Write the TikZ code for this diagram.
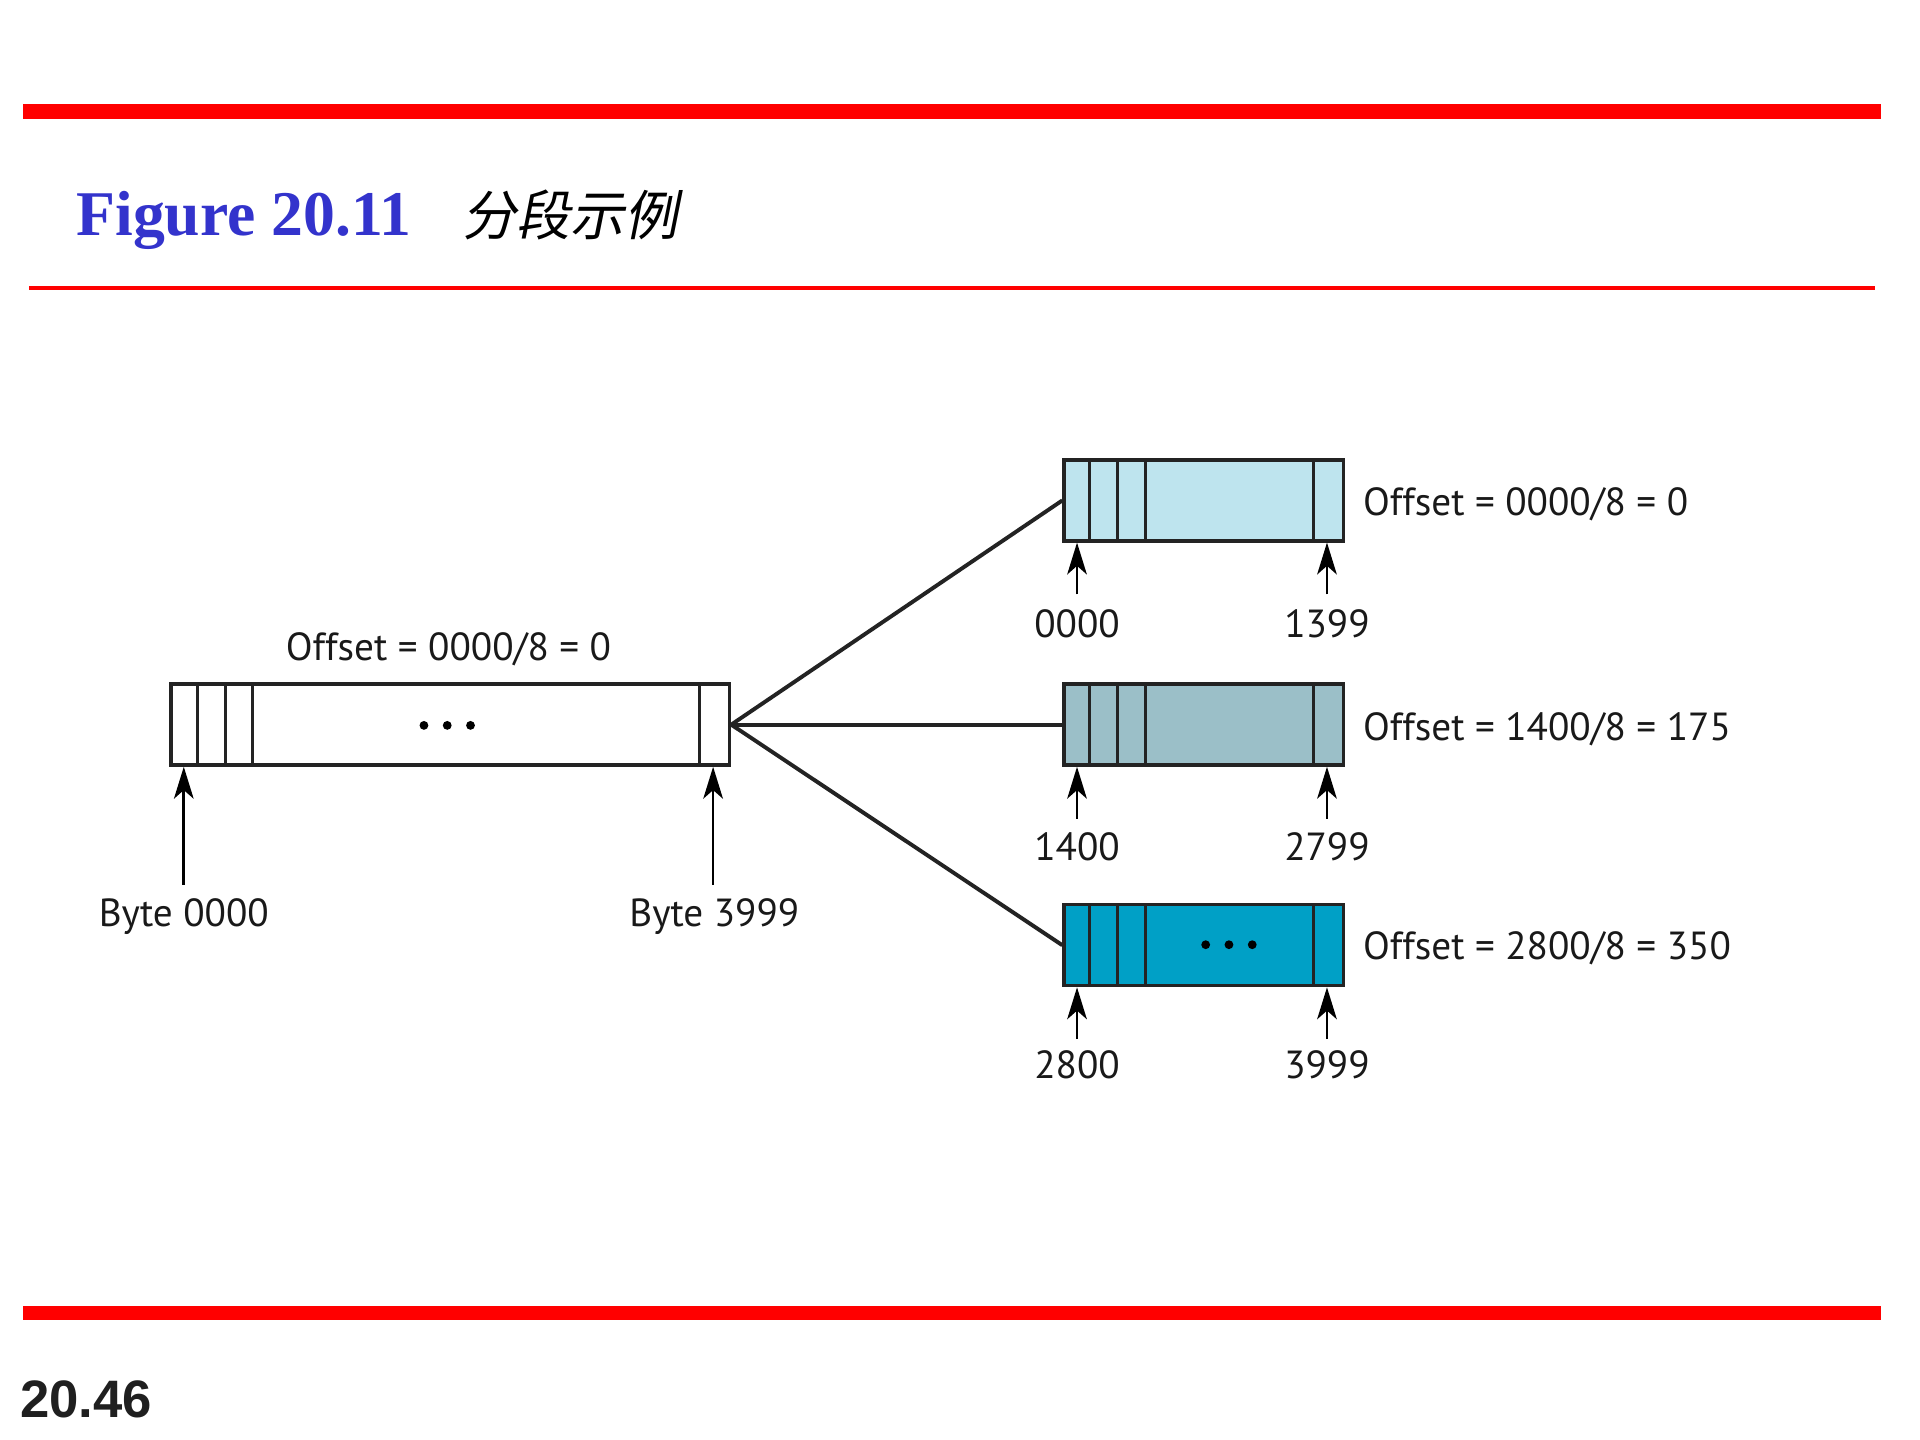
\documentclass[tikz,border=0pt]{standalone}
\usepackage{fontspec}
\setmainfont{PT Sans}
\newfontfamily\titlefont{Liberation Serif}
\newfontfamily\numfont{Liberation Sans}
\newfontfamily\cjk[FakeSlant=0.2]{Noto Sans CJK SC}
\usetikzlibrary{arrows.meta,calc}
\definecolor{barred}{RGB}{255,0,0}
\definecolor{titleblue}{RGB}{51,51,204}
\definecolor{segA}{RGB}{190,228,238}
\definecolor{segB}{RGB}{155,191,200}
\definecolor{segC}{RGB}{0,160,198}
\definecolor{edgec}{RGB}{35,35,35}
\begin{document}
\begin{tikzpicture}[x=0.5pt,y=-0.5pt,
  lbl/.style={inner sep=0pt, text=black!90, font=\fontsize{16}{18}\selectfont},
  segbox/.style={draw=edgec, line width=1.4pt, rectangle, inner sep=0pt, minimum height=33pt, anchor=north west},
  divider/.style={draw=edgec, line width=1.2pt},
  ptr/.style={line width=1.1pt, -{Stealth[length=13pt,width=8pt,inset=3.5pt]}},
  fan/.style={line width=1.6pt, draw=edgec},
  dotmark/.style={circle, fill=black, inner sep=0pt, minimum size=3.6pt}]
\useasboundingbox (0,0) rectangle (1567,1175);
% header / footer bars
\fill[barred] (19,85) rectangle (1535,97);
\draw[barred, line width=1.5pt] (24,235) -- (1530,235);
\fill[barred] (19,1066) rectangle (1535,1077);
\node[anchor=base west, inner sep=0pt, text=titleblue, font=\titlefont\bfseries\fontsize{26}{30}\selectfont] (fig) at (62,192) {Figure 20.11};
\node[anchor=base west, inner sep=0pt, font=\cjk\fontsize{22}{26}\selectfont] (cap) at (377,192) {分段示例};
\node[anchor=base west, inner sep=0pt, text=black!88, font=\numfont\bfseries\fontsize{21.5}{24}\selectfont] (pg) at (16,1157) {20.46};

% main datagram
\node[segbox, minimum width=228pt, fill=white] (main) at (138,557) {};
\foreach \d in {23,46,68,433}
  \draw[divider] ($(main.north west)+(\d,0)$) -- ($(main.south west)+(\d,0)$);
\node[dotmark] (md1) at (346,592) {};
\node[dotmark] (md2) at (365,592) {};
\node[dotmark] (md3) at (384,592) {};
\node[lbl, anchor=base] (mofs) at (366,539) {Offset = 0000/8 = 0};
\node[lbl, anchor=base] (bl0) at (150,756) {Byte 0000};
\node[lbl, anchor=base] (bl1) at (583,756) {Byte 3999};
\coordinate (ma0) at (150,722);
\coordinate (ma1) at (582,722);
\draw[ptr] (ma0) -- (ma0 |- main.south);
\draw[ptr] (ma1) -- (ma1 |- main.south);

% fragments
\node[segbox, minimum width=114pt, fill=segA] (s1) at (867,374) {};
\node[segbox, minimum width=114pt, fill=segB] (s2) at (867,557) {};
\node[segbox, minimum width=114pt, fill=segC] (s3) at (867,737) {};
\foreach \s in {s1,s2,s3}
  \foreach \d in {22,45,68,205}
    \draw[divider] ($(\s.north west)+(\d,0)$) -- ($(\s.south west)+(\d,0)$);
\node[dotmark] (fd1) at (984,771) {};
\node[dotmark] (fd2) at (1003,771) {};
\node[dotmark] (fd3) at (1022,771) {};

\draw[fan] (main.east) -- (s1.west);
\draw[fan] (main.east) -- (s2.west);
\draw[fan] (main.east) -- (s3.west);

\node[lbl, anchor=base west] (o1) at (1112,421) {Offset = 0000/8 = 0};
\node[lbl, anchor=base west] (o2) at (1112,604) {Offset = 1400/8 = 175};
\node[lbl, anchor=base west] (o3) at (1112,783) {Offset = 2800/8 = 350};

\node[lbl, anchor=base] (l1a) at (879,520) {0000};
\node[lbl, anchor=base] (l1b) at (1083,520) {1399};
\node[lbl, anchor=base] (l2a) at (879,702) {1400};
\node[lbl, anchor=base] (l2b) at (1083,702) {2799};
\node[lbl, anchor=base] (l3a) at (879,880) {2800};
\node[lbl, anchor=base] (l3b) at (1083,880) {3999};

\coordinate (a1a) at (879,485);
\coordinate (a1b) at (1083,485);
\coordinate (a2a) at (879,668);
\coordinate (a2b) at (1083,668);
\coordinate (a3a) at (879,848);
\coordinate (a3b) at (1083,848);
\draw[ptr] (a1a) -- (a1a |- s1.south);
\draw[ptr] (a1b) -- (a1b |- s1.south);
\draw[ptr] (a2a) -- (a2a |- s2.south);
\draw[ptr] (a2b) -- (a2b |- s2.south);
\draw[ptr] (a3a) -- (a3a |- s3.south);
\draw[ptr] (a3b) -- (a3b |- s3.south);
\end{tikzpicture}
\end{document}
